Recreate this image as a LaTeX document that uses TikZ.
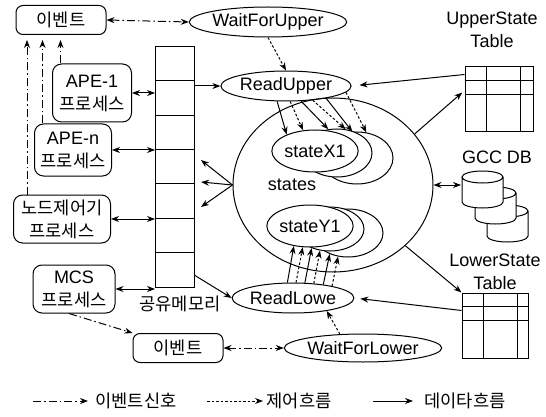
\documentclass[tikz,border=0pt]{standalone}
\usepackage{fontspec}
\setmainfont{Liberation Sans}
\newfontfamily\kr{Noto Sans CJK KR}[Scale=0.98]
\usetikzlibrary{arrows.meta, shapes.geometric}

\begin{document}
\begin{tikzpicture}[x=1pt, y=-1pt, line width=1pt, >={Stealth[length=8pt,width=6pt]},
        every node/.style={font=\fontsize{18}{23}\selectfont}]
    \tikzstyle{proc} = [rectangle, draw, rounded corners=9pt, align=center, inner sep=0pt]
    \tikzstyle{evbox} = [rectangle, draw, rounded corners=7pt, inner sep=0pt, minimum width=90pt, minimum height=29pt]
    \tikzstyle{task} = [ellipse, draw, fill=white, inner sep=0pt]
    \tikzstyle{tab} = [rectangle, draw, minimum width=68pt, minimum height=65pt]
    \tikzstyle{dflow} = [->]
    \tikzstyle{cflow} = [->, dash pattern=on 2.5pt off 2pt]
    \tikzstyle{eflow} = [->, dash pattern=on 8pt off 3pt on 1.5pt off 3pt]

    \useasboundingbox (0,0) rectangle (546,417);

    \node [evbox] (evtop) at (61,20) {\kr 이벤트};
    \node [task, minimum width=133pt, minimum height=30pt] (waitup) at (268,22) {WaitForUpper};
    \node [task, minimum width=106pt, minimum height=30pt] (readup) at (286,86) {ReadUpper};

    \node [proc, minimum width=79pt, minimum height=58pt] (ape1) at (92,93) {APE-1\\{\kr 프로세스}};
    \node [proc, minimum width=77pt, minimum height=52pt] (apen) at (73,150) {APE-n\\{\kr 프로세스}};
    \node [proc, minimum width=97pt, minimum height=48pt] (ndc) at (62,219) {{\kr 노드제어기}\\{\kr 프로세스}};
    \node [proc, minimum width=82pt, minimum height=48pt] (mcs) at (74,289) {MCS\\{\kr 프로세스}};

    \node [draw, minimum width=39pt, minimum height=240pt, inner sep=0pt] (mem) at (175,167) {};
    \foreach \i in {1,...,6}
        \draw ([yshift={-34.3pt*\i}]mem.north west) -- ([yshift={-34.3pt*\i}]mem.north east);
    \node (memlabel) at (180,304) {\kr 공유메모리};

    \node [evbox] (evbot) at (178,348) {\kr 이벤트};
    \node [task, minimum width=143pt, minimum height=28pt] (waitlo) at (363,348) {WaitForLower};
    \node [task, minimum width=116pt, minimum height=30pt] (readlo) at (293,298) {ReadLowe};

    \node [ellipse, draw, minimum width=200pt, minimum height=174pt] (states) at (333,185) {};
    \node (stlabel) at (292,185) {states};
    \node [task, minimum width=72pt, minimum height=52pt] (X3) at (357,158) {};
    \node [task, minimum width=70pt, minimum height=48pt] (X2) at (337,153) {};
    \node [task, minimum width=70pt, minimum height=42pt] (X1) at (315,151) {stateX1};
    \node [task, minimum width=70pt, minimum height=48pt] (Y3) at (348,233) {};
    \node [task, minimum width=68pt, minimum height=44pt] (Y2) at (330,229) {};
    \node [task, minimum width=66pt, minimum height=42pt] (Y1) at (310,226) {stateY1};

    \node [align=center] (uplabel) at (492,30) {UpperState\\Table};
    \node [tab] (uptab) at (499,99.5) {};
    \node (gcclabel) at (497,157) {GCC DB};
    \node [align=center] (lolabel) at (495,272) {LowerState\\Table};
    \node [tab, minimum width=66pt] (lotab) at (495,325.5) {};
    \foreach \t in {uptab, lotab} {
        \draw ([xshift=22pt]\t.north west) -- ([xshift=22pt]\t.south west);
        \draw ([xshift=56pt]\t.north west) -- ([xshift=56pt]\t.south west);
        \draw ([yshift=-14pt]\t.north west) -- ([yshift=-14pt]\t.north east);
        \draw ([yshift=-28pt]\t.north west) -- ([yshift=-28pt]\t.north east);
    }

    \foreach \dx/\dy in {25/34, 13/16, 0/0}
        \draw [fill=white] (462+\dx,177+\dy) -- (462+\dx,202+\dy)
            arc [start angle=180, end angle=0, x radius=20.5, y radius=6] -- (503+\dx,177+\dy)
            arc [start angle=0, end angle=-180, x radius=20.5, y radius=6] -- cycle
            (482.5+\dx,177+\dy) ellipse [x radius=20.5, y radius=6];
    \coordinate (gcc) at (461,185);

    \draw [eflow, <->] (evtop.east) -- (waitup.west);
    \draw [eflow, <->] (evbot.east) -- (waitlo.west);
    \draw [cflow] (waitup.south) -- (readup.north);
    \draw [cflow] (waitlo.149) -- (readlo.-21);
    \draw [eflow, shorten >=5pt] ([xshift=8.5pt]ape1.north west) -- ([xshift=8.5pt]ape1.north west |- evtop.south);
    \draw [eflow, shorten >=5pt] ([xshift=8.5pt]apen.north west) -- ([xshift=8.5pt]apen.north west |- evtop.south);
    \draw [eflow, shorten >=5pt] ([xshift=14pt]ndc.north west) -- ([xshift=14pt]ndc.north west |- evtop.south);
    \draw [eflow] ([xshift=-5pt]mcs.south) -- (evbot.north west);

    \foreach \p in {ape1, apen, ndc, mcs}
        \draw [dflow, <->] (\p.east) -- (\p.east -| mem.west);
    \draw [dflow] (mem.east |- readup.west) -- (readup.west);
    \draw [dflow] ([yshift=12pt]mem.south east) -- (readlo.west);
    \foreach \dy in {7, -15, -40}
        \draw [dflow] (states.west) -- ([xshift=6pt, yshift=\dy pt]mem.east);

    \draw [dflow, shorten >=8pt] ([yshift=-8pt]uptab.north west) -- (readup.east);
    \draw [dflow, shorten >=6pt] ([yshift=15pt]lotab.west) -- (readlo.east);
    \draw [dflow, shorten >=3pt] (states.32) -- ([yshift=9pt]uptab.west);
    \draw [dflow] (states.-40) -- (lotab.north west);
    \draw [dflow, <->] (states.east) -- (gcc);

    \draw [dflow] (readup.-120) -- (X1.150);
    \draw [cflow] (readup.-75) -- (X1.120);
    \draw [dflow] (readup.-45) -- (X2.110);
    \draw [cflow] (readup.-28) -- (X2.70);
    \draw [dflow] (readup.-17) -- (X3.100);
    \draw [cflow] (readup.-6) -- (X3.70);

    \draw [dflow] (readlo.110) -- (Y1.-129);
    \draw [cflow] (readlo.79) -- (Y1.-109);
    \draw [dflow] (readlo.52) -- (Y2.-134);
    \draw [cflow] (readlo.35) -- (Y2.-115);
    \draw [dflow] (readlo.24) -- (Y3.-131);
    \draw [cflow] (readlo.17) -- (Y3.-113);

    \coordinate (le1) at (33,401);
    \coordinate (le2) at (88,401);
    \draw [eflow] (le1) -- (le2);
    \node (letxt) at (136,401) {\kr 이벤트신호};
    \coordinate (lc1) at (207,401);
    \coordinate (lc2) at (263,401);
    \draw [cflow] (lc1) -- (lc2);
    \node (lctxt) at (299,401) {\kr 제어흐름};
    \coordinate (ld1) at (373,401);
    \coordinate (ld2) at (413,401);
    \draw [dflow] (ld1) -- (ld2);
    \node (ldtxt) at (465,401) {\kr 데이타흐름};
\end{tikzpicture}
\end{document}
